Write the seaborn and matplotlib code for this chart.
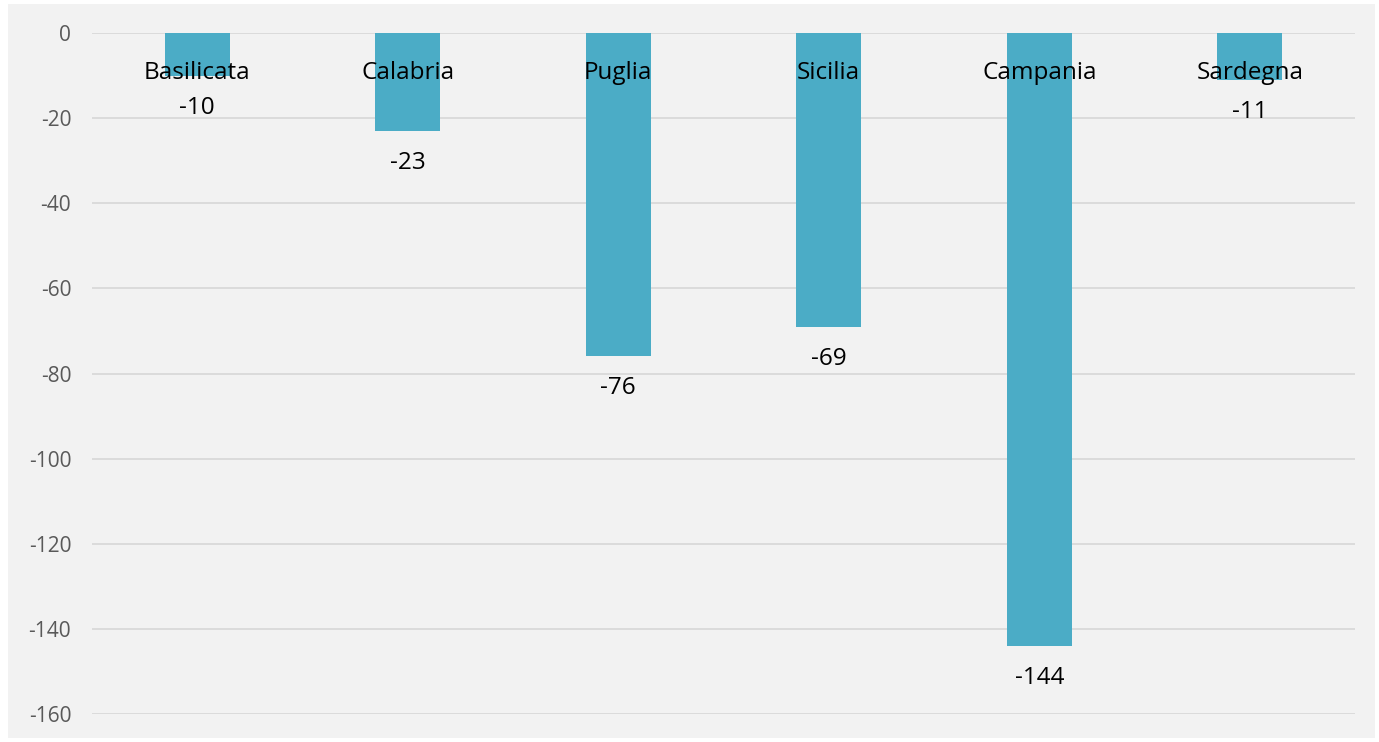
import matplotlib
matplotlib.use("Agg")
import matplotlib.pyplot as plt
import matplotlib.transforms as mtransforms
from matplotlib.patches import Rectangle
import pandas as pd
import seaborn as sns

regions = ["Basilicata", "Calabria", "Puglia", "Sicilia", "Campania", "Sardegna"]
values = [-10, -23, -76, -69, -144, -11]
y_ticks = [0, -20, -40, -60, -80, -100, -120, -140, -160]

df = pd.DataFrame({"region": regions, "value": values})

sns.set_theme(style="white")
plt.rcParams["font.family"] = ["Open Sans", "DejaVu Sans"]

W, H = 1379, 742
fig = plt.figure(figsize=(W / 100, H / 100), dpi=100, facecolor="white")
fig.patches.append(Rectangle((8 / W, 4 / H), (1375 - 8) / W, (738 - 4) / H,
                             transform=fig.transFigure, facecolor="#F2F2F2",
                             edgecolor="none", zorder=-10))
ax = fig.add_axes([92 / W, 1 - 714 / H, (1355 - 92) / W, (714 - 33) / H])
ax.set_facecolor("none")
ax.set_zorder(1)

sns.barplot(data=df, x="region", y="value", color="#4BACC6", saturation=1,
            width=0.31, linewidth=0, ax=ax, zorder=2)

ax.set_ylim(-160, 0)
ax.set_xlim(-0.5, len(regions) - 0.5)
ax.set_yticks(y_ticks)
ax.set_yticklabels([str(t) for t in y_ticks], color="#595959", fontsize=15)
ax.tick_params(axis="y", length=0, pad=15)
ax.set_xticks([])
ax.set_xlabel("")
ax.set_ylabel("")
for t in y_ticks:
    ax.axhline(t, color="#D9D9D9", lw=1.3, zorder=1)
for s in ax.spines.values():
    s.set_visible(False)

trans = mtransforms.blended_transform_factory(ax.transData, ax.transAxes)
for i, (name, v) in enumerate(zip(regions, values)):
    ax.text(i, 1 - 40 / 681, name, transform=trans, ha="center", va="center",
            fontsize=17.5, color="black", zorder=3)
    ax.annotate(str(v), (i, v), xytext=(0, -23), textcoords="offset points",
                ha="center", va="center", fontsize=17.5, color="black", zorder=3)

fig.savefig("out.png", dpi=100, facecolor="white")
